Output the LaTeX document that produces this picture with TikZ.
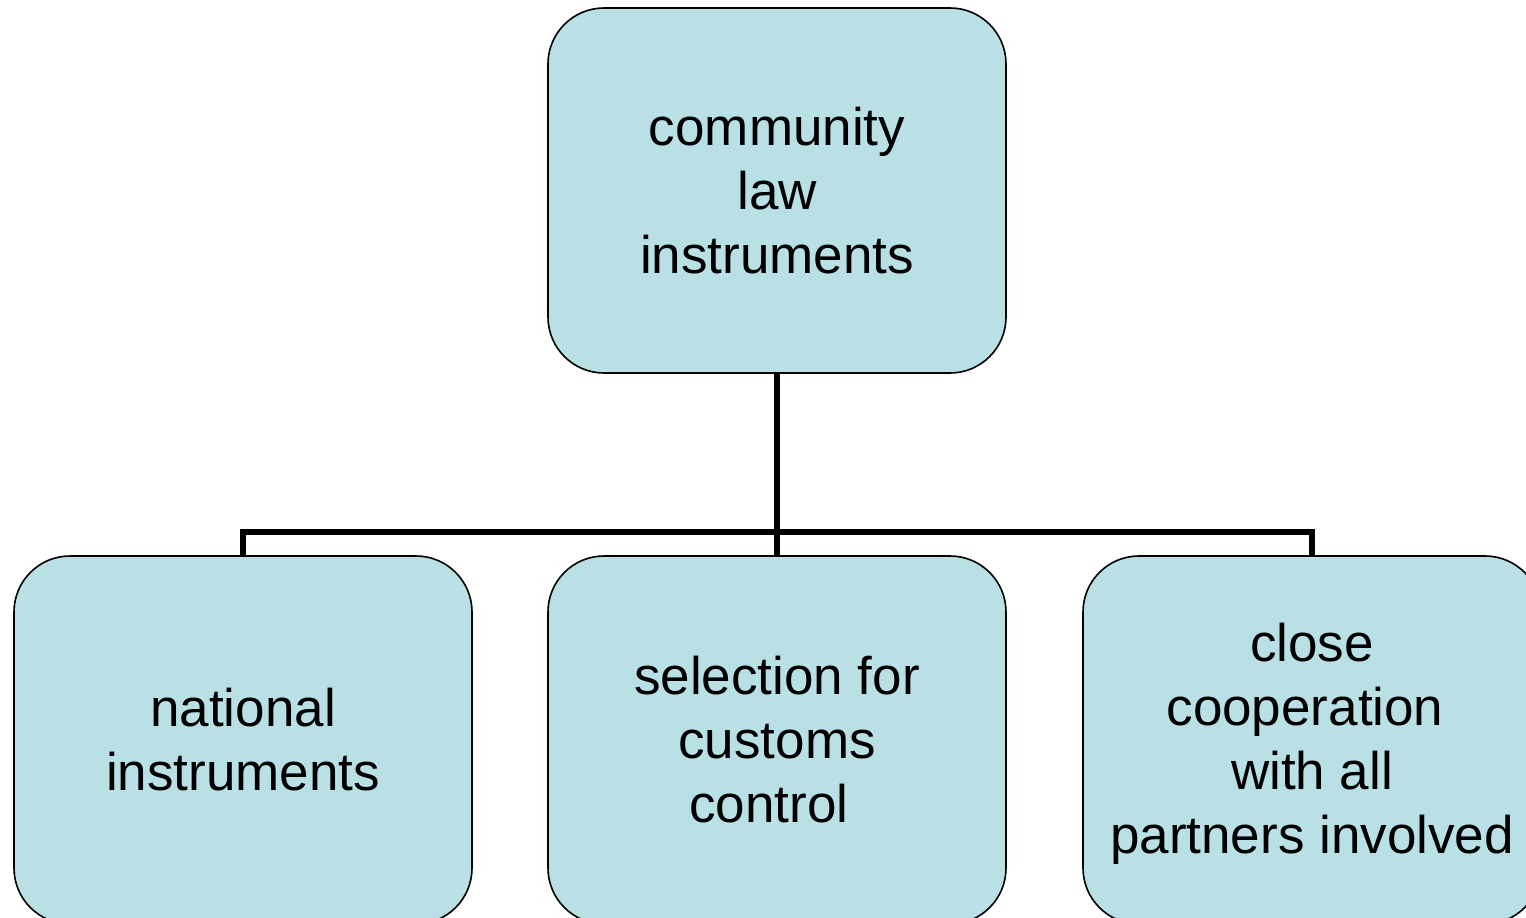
\documentclass[tikz,border=0pt]{standalone}
\usepackage{fontspec}
\setmainfont{Liberation Sans}
\definecolor{boxfill}{RGB}{185,224,228}
\tikzset{
  box/.style={draw=black, line width=1.6pt, fill=boxfill, rounded corners=56pt,
    minimum width=458pt, minimum height=365pt, inner sep=0pt, align=center,
    font=\fontsize{53}{64}\selectfont},
  link/.style={draw=black, line width=5.5pt}
}
\begin{document}
\begin{tikzpicture}[x=1pt,y=-1pt]
\useasboundingbox (0,0) rectangle (1526,918);
\clip (0,0) rectangle (1526,918);
\fill[white] (0,0) rectangle (1526,918);
\node[box, minimum height=365pt] (top) at (777,190.5) {community\\law\\instruments};
\node[box, minimum height=368pt] (left) at (243,740) {national\\instruments};
\node[box, minimum height=368pt] (mid) at (777,740) {selection for\\customs\\control\hspace*{16pt}};
\node[box, minimum height=368pt] (right) at (1312,740) {\raisebox{-5pt}[\height][\depth]{\begin{tabular}{@{}c@{}}close\\cooperation\hspace*{14pt}\\with all\\partners involved\end{tabular}}};
\coordinate (junc) at (777,532);
\draw[link] (top.south) -- (mid.north);
\draw[link] (left.north) -- (left.north |- junc) -- (right.north |- junc) -- (right.north);
\end{tikzpicture}
\end{document}
